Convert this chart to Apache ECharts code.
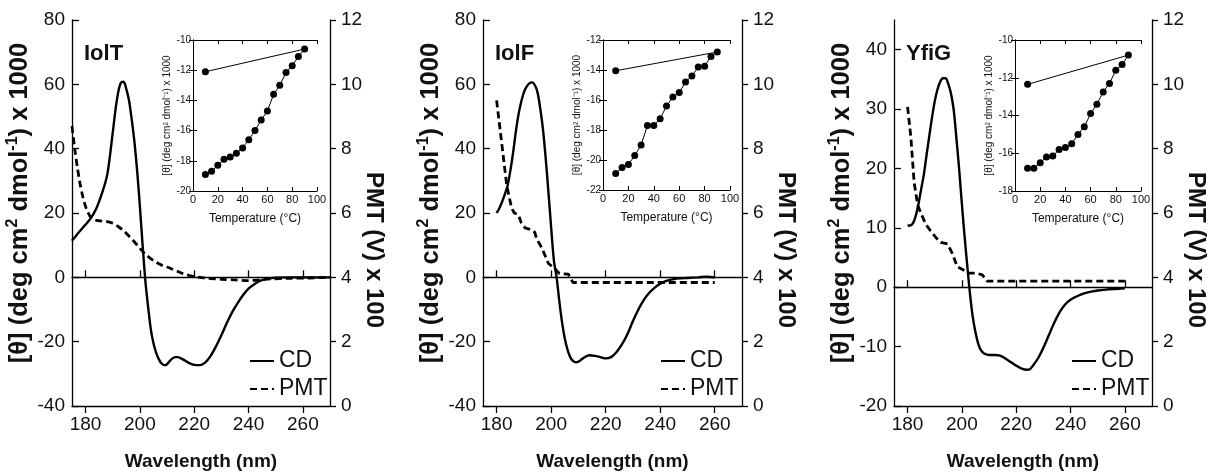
<!DOCTYPE html>
<html><head><meta charset="utf-8">
<script src="https://cdn.jsdelivr.net/npm/echarts@6/dist/echarts.min.js"></script>
<style>html,body{margin:0;padding:0;background:#fff}#c{width:1208px;height:476px}</style>
</head><body><div id="c"></div>
<script>
// ---------- DATA ----------
const wavelengthTicks = [180, 200, 220, 240, 260];
const panelNames = ['IolT', 'IolF', 'YfiG'];

// CD spectra: [wavelength nm, [θ] x 1000]
const iolT_cd = [[175,11.4],[177,13.5],[180,16.4],[182,18.5],[184,21.5],[186,26],[188,32],[190,45],[191,52],[192,57.5],[193,60.5],[194,60.8],[195,58.5],[196,55],[197,49],[198,42],[199,33],[200,22],[201,10],[202,-1],[203,-9],[204,-16],[205,-20.5],[206,-23.5],[207,-25.5],[208,-26.8],[209,-27.3],[210,-27],[211,-26],[212,-25.2],[213,-24.8],[214,-24.8],[216,-25.6],[218,-26.6],[220,-27.2],[222,-27.3],[224,-26.5],[226,-24.5],[228,-21.5],[230,-18],[232,-14.2],[234,-10.8],[236,-8],[238,-5.5],[240,-3.5],[242,-2.2],[244,-1.2],[246,-0.6],[248,-0.3],[250,-0.1],[255,0],[260,0],[265,0],[270,0]];
const iolF_cd = [[180,20],[181,21.5],[182,23.5],[183,25.8],[184,28.5],[185,33],[186,38.5],[187,45],[188,50.5],[189,54.5],[190,57.5],[191,59.3],[192,60.3],[193,60.6],[194,59.8],[195,57.5],[196,52.5],[197,46],[198,37],[199,26.5],[200,15.5],[201,5.3],[202,0],[203,-7.5],[204,-14],[205,-19],[206,-22.5],[207,-24.8],[208,-26],[209,-26.4],[210,-26.2],[211,-25.6],[212,-25],[213,-24.5],[214,-24.2],[216,-24.4],[218,-24.8],[220,-25.2],[222,-24.8],[224,-23.2],[226,-20.8],[228,-17.6],[230,-13.6],[232,-10],[234,-7],[236,-4.8],[238,-3.2],[240,-2],[242,-1.2],[244,-0.7],[246,-0.4],[248,-0.3],[250,-0.2],[254,0],[257,0.2],[260,0]];
const yfiG_cd = [[180,10.4],[181,10.4],[182,10.8],[183,12],[184,14],[185,16.5],[186,19],[187,22.3],[188,25.5],[189,28.6],[190,31.3],[191,33.3],[192,34.6],[193,35.2],[194,35.2],[195,34.2],[196,32.6],[197,29.8],[198,25],[199,19.8],[200,14],[201,8.5],[202,3.5],[203,-1.2],[204,-5],[205,-7.6],[206,-9.5],[207,-10.6],[208,-11.1],[209,-11.3],[210,-11.4],[212,-11.4],[214,-11.5],[216,-12],[218,-12.6],[220,-13.2],[222,-13.7],[224,-13.9],[225,-13.8],[226,-13.3],[228,-12],[230,-10.2],[232,-8.1],[234,-6],[236,-4.2],[238,-2.9],[240,-2.1],[242,-1.6],[244,-1.2],[246,-0.9],[248,-0.7],[250,-0.55],[253,-0.4],[256,-0.3],[260,-0.2]];

// PMT traces: [wavelength nm, PMT (V) x 100]
const iolT_pmt = [[175,8.7],[176,8.0],[177,7.4],[178,6.9],[179,6.5],[180,6.2],[181,6.0],[182,5.85],[184,5.77],[186,5.75],[188,5.73],[190,5.68],[192,5.58],[194,5.45],[196,5.28],[198,5.1],[200,4.9],[202,4.72],[204,4.58],[206,4.47],[208,4.38],[210,4.32],[212,4.25],[214,4.18],[216,4.11],[218,4.06],[220,4.02],[222,4.0],[225,3.97],[230,3.94],[235,3.92],[240,3.9],[244,3.92],[248,3.95],[255,3.97],[262,3.98],[270,4.0]];
const iolF_pmt = [[180,9.5],[183.7,6.86],[185.5,6.15],[186.5,6.0],[188,5.95],[189,5.7],[190.4,5.54],[192.2,5.49],[194,5.4],[194.7,5.19],[196.5,4.93],[199,4.43],[201,4.3],[201.4,4.27],[203,4.12],[206.3,4.1],[207,4.05],[208,3.84],[260,3.84]];
const yfiG_pmt = [[180,9.3],[181.2,8.37],[182.4,6.96],[183.7,6.25],[184.9,6.0],[186.7,5.65],[188.5,5.44],[190.4,5.24],[192.2,5.09],[194.7,5.04],[196.5,4.74],[198.3,4.33],[200.1,4.25],[202.6,4.13],[205.1,4.13],[207.5,4.08],[209.3,3.88],[260,3.88]];

// Thermal melts (insets): heating 10..90 °C, then back to 10 °C
const insetTemps = [10,15,20,25,30,35,40,45,50,55,60,65,70,75,80,85,90,10];
const iolT_melt = [-18.9,-18.7,-18.3,-17.9,-17.75,-17.5,-17.15,-16.6,-16.0,-15.3,-14.7,-13.6,-13.0,-12.15,-11.7,-11.1,-10.6,-12.1];
const iolF_melt = [-20.9,-20.5,-20.3,-19.7,-19.0,-17.7,-17.7,-17.25,-16.4,-15.8,-15.5,-14.8,-14.4,-13.8,-13.75,-13.1,-12.8,-14.05];
const yfiG_melt = [-16.8,-16.8,-16.5,-16.2,-16.15,-15.8,-15.7,-15.5,-15.0,-14.6,-13.9,-13.4,-12.75,-12.3,-11.6,-11.3,-10.8,-12.35];

const cdTicksA = [-40,-20,0,20,40,60,80];
const cdTicksB = [-20,-10,0,10,20,30,40];

// ---------- LAYOUT ----------
const FN = "'Liberation Sans',Arial,Helvetica,sans-serif";
const INK = '#111';

const panels = [
  {cd: iolT_cd, pmt: iolT_pmt, melt: iolT_melt, pmtSmooth: 0.3, zeroLine: true, cdMin:-40, cdMax:80, cdTicks: cdTicksA,
   g:{left:72, top:20, width:258, height:395}, ins:{left:193, top:40, width:124, height:151}, yMin:-20, yMax:-10},
  {cd: iolF_cd, pmt: iolF_pmt, melt: iolF_melt, pmtSmooth: false, zeroLine: true, cdMin:-40, cdMax:80, cdTicks: cdTicksA,
   g:{left:483, top:20, width:259, height:395}, ins:{left:603, top:40, width:127, height:150}, yMin:-22, yMax:-12},
  {cd: yfiG_cd, pmt: yfiG_pmt, melt: yfiG_melt, pmtSmooth: false, zeroLine: false, cdMin:-20, cdMax:45, cdTicks: cdTicksB,
   g:{left:894, top:20, width:258, height:395}, ins:{left:1015, top:40, width:126, height:151}, yMin:-18, yMax:-10}
];

const grid = [], xAxis = [], yAxis = [], series = [], legend = [], graphic = [];
const line = {lineStyle:{color:'#000', width:1.3}};

panels.forEach((p) => grid.push(Object.assign({containLabel:false}, p.g)));
panels.forEach((p) => grid.push(Object.assign({containLabel:false}, p.ins)));

// main bottom x (0..2)
panels.forEach((p, i) => xAxis.push({
  type:'value', gridIndex:i, min:175, max:270, position:'bottom',
  axisLine:line, splitLine:{show:false},
  axisTick:{inside:true, length:7, lineStyle:{color:'#000', width:1.3}, customValues: wavelengthTicks},
  axisLabel:{customValues: wavelengthTicks, fontSize:19, fontFamily:FN, color:INK, margin:9},
  name:'Wavelength (nm)', nameLocation:'middle', nameGap:46,
  nameTextStyle:{fontSize:19, fontWeight:'bold', fontFamily:FN, color:INK}
}));
// main top x (3..5)
panels.forEach((p, i) => xAxis.push({
  type:'value', gridIndex:i, min:175, max:270, position:'top',
  axisLine:line, splitLine:{show:false},
  axisTick:{inside:true, length:7, lineStyle:{color:'#000', width:1.3}, customValues: wavelengthTicks},
  axisLabel:{show:false}
}));
// inset bottom x (6..8)
panels.forEach((p, i) => xAxis.push({
  type:'value', gridIndex:3+i, min:0, max:100, interval:20, position:'bottom',
  axisLine:{lineStyle:{color:'#000', width:1}}, splitLine:{show:false},
  axisTick:{inside:true, length:4, lineStyle:{color:'#000', width:1}},
  axisLabel:{fontSize:11, fontFamily:FN, color:INK, margin:3},
  name:'Temperature (°C)', nameLocation:'middle', nameGap:22,
  nameTextStyle:{fontSize:12, fontFamily:FN, color:INK}
}));
// inset top x (9..11)
panels.forEach((p, i) => xAxis.push({
  type:'value', gridIndex:3+i, min:0, max:100, interval:20, position:'top',
  axisLine:{lineStyle:{color:'#000', width:1}}, splitLine:{show:false},
  axisTick:{inside:true, length:4, lineStyle:{color:'#000', width:1}},
  axisLabel:{show:false}
}));

// main left y (0..2)
panels.forEach((p, i) => yAxis.push({
  type:'value', gridIndex:i, min:p.cdMin, max:p.cdMax, position:'left',
  axisLine:line, splitLine:{show:false},
  axisTick:{inside:true, length:7, lineStyle:{color:'#000', width:1.3}, customValues:p.cdTicks},
  axisLabel:{customValues:p.cdTicks, fontSize:19, fontFamily:FN, color:INK, margin:7}
}));
// main right y PMT (3..5)
panels.forEach((p, i) => yAxis.push({
  type:'value', gridIndex:i, min:0, max:12, interval:2, position:'right',
  axisLine:line, splitLine:{show:false},
  axisTick:{inside:false, length:6, lineStyle:{color:'#000', width:1.3}},
  axisLabel:{fontSize:19, fontFamily:FN, color:INK, margin:11}
}));
// inset left y (6..8)
panels.forEach((p, i) => yAxis.push({
  type:'value', gridIndex:3+i, min:p.yMin, max:p.yMax, interval:2, position:'left',
  axisLine:{lineStyle:{color:'#000', width:1}}, splitLine:{show:false},
  axisTick:{inside:true, length:4, lineStyle:{color:'#000', width:1}},
  axisLabel:{fontSize:10, fontFamily:FN, color:INK, margin:2},
  name:'[θ] (deg cm² dmol⁻¹) x 1000', nameLocation:'middle', nameGap:21,
  nameTextStyle:{fontSize:10, fontFamily:FN, color:INK}
}));
// inset right y (9..11)
panels.forEach((p, i) => yAxis.push({
  type:'value', gridIndex:3+i, min:p.yMin, max:p.yMax, interval:2, position:'right',
  axisLine:{lineStyle:{color:'#000', width:1}}, splitLine:{show:false},
  axisTick:{inside:true, length:4, lineStyle:{color:'#000', width:1}},
  axisLabel:{show:false}
}));

panels.forEach((p, i) => {
  const cdSeries = {
    name:'CD', type:'line', xAxisIndex:i, yAxisIndex:i, data:p.cd, smooth:0.3,
    symbol:'none', legendIcon:'rect', lineStyle:{color:'#000', width:2.4}, itemStyle:{color:'#000'}, z:3
  };
  if (p.zeroLine) {
    cdSeries.markLine = {silent:true, symbol:['none','none'], label:{show:false},
      lineStyle:{color:'#000', width:1, type:'solid'}, data:[{yAxis:0}], animation:false};
  }
  series.push(cdSeries);
  series.push({
    name:'PMT', type:'line', xAxisIndex:i, yAxisIndex:3+i, data:p.pmt, smooth:p.pmtSmooth,
    symbol:'none', legendIcon:'rect', lineStyle:{color:'#000', width:2.8, type:[7,4]}, itemStyle:{color:'#000'}, z:3
  });
  series.push({
    name:'melt'+i, type:'line', xAxisIndex:6+i, yAxisIndex:6+i,
    data: insetTemps.map((t, k) => [t, p.melt[k]]),
    symbol:'circle', symbolSize:7, lineStyle:{color:'#000', width:1}, itemStyle:{color:'#000'}, z:4
  });
  legend.push({
    data:['CD','PMT'], orient:'vertical', left:p.g.left + 172, top:343, itemWidth:24, itemHeight:3, itemGap:2,
    selectedMode:false, itemStyle:{color:'#000', borderWidth:0, opacity:0},
    textStyle:{fontSize:23, fontFamily:FN, color:INK, lineHeight:26}
  });
  // panel label
  graphic.push({type:'text', x:p.g.left + 12, y:p.g.top + 34,
    style:{text:panelNames[i], font:"bold 22px " + FN, fill:INK, align:'left', verticalAlign:'middle'}});
  // left axis title
  graphic.push({type:'text', x:p.g.left - 52, y:p.g.top + 183, rotation:Math.PI/2,
    style:{text:'{a|[θ] (deg cm}{s|2}{a| dmol}{s|-1}{a|) x 1000}', align:'center', verticalAlign:'middle',
      rich:{a:{fontSize:25.5, fontWeight:'bold', fontFamily:FN, fill:INK, lineHeight:30},
            s:{fontSize:16, fontWeight:'bold', fontFamily:FN, fill:INK, verticalAlign:'top', lineHeight:30}}}});
  // right axis title
  graphic.push({type:'text', x:p.g.left + p.g.width + 44, y:p.g.top + 230, rotation:-Math.PI/2,
    style:{text:'PMT (V) x 100', font:"bold 24px " + FN, fill:INK, align:'center', verticalAlign:'middle'}});
});

const chart = echarts.init(document.getElementById('c'), null, {renderer:'canvas'});
chart.setOption({
  animation:false, backgroundColor:'#fff',
  grid, xAxis, yAxis, series, legend, graphic
});
</script></body></html>
